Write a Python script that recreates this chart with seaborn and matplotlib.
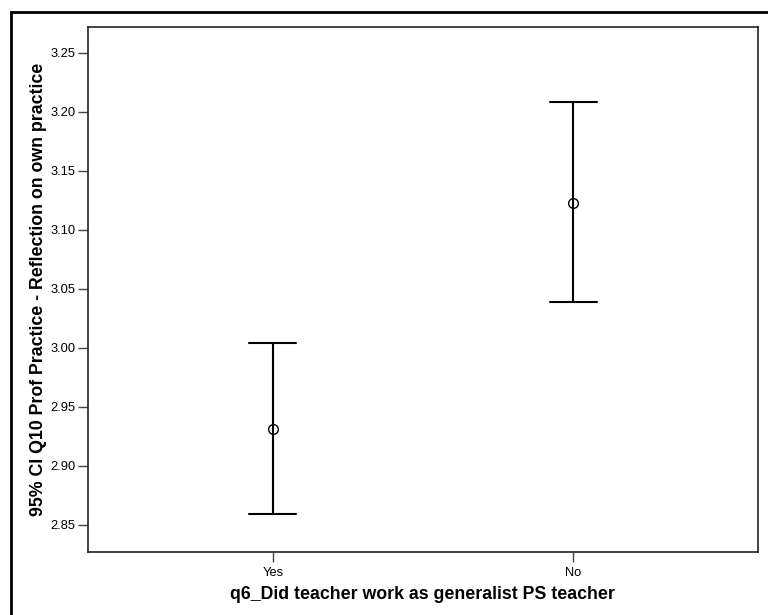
import matplotlib
matplotlib.use("Agg")
import matplotlib.pyplot as plt
from matplotlib.patches import Rectangle
from matplotlib.ticker import FormatStrFormatter
import numpy as np
import pandas as pd
import seaborn as sns

# values
groups = ["Yes", "No"]
ci_low = [2.859, 3.039]
means = [2.931, 3.123]
ci_high = [3.004, 3.208]
y_ticks = [2.85, 2.90, 2.95, 3.00, 3.05, 3.10, 3.15, 3.20, 3.25]

# long table: low / mean / high per group -> median is the mean, min-max the CI
rows = []
for g, lo, m, hi in zip(groups, ci_low, means, ci_high):
    for v in (lo, m, hi):
        rows.append({"group": g, "value": v})
df = pd.DataFrame(rows)

sns.set_style("ticks")
plt.rcParams["font.family"] = ["Liberation Sans", "DejaVu Sans"]
plt.rcParams["text.color"] = "black"
plt.rcParams["axes.labelcolor"] = "black"
plt.rcParams["xtick.labelcolor"] = "black"
plt.rcParams["ytick.labelcolor"] = "black"

fig = plt.figure(figsize=(7.68, 6.15), dpi=100)
ax = fig.add_axes([0.1146, 0.1024, 0.872, 0.8542])

sns.pointplot(data=df, x="group", y="value", order=groups,
              estimator=np.median, errorbar=("pi", 100),
              capsize=0.157, linestyle="none", marker="o",
              color="black", markerfacecolor="none", markeredgecolor="black",
              markersize=7, markeredgewidth=1.0,
              err_kws={"linewidth": 1.5}, ax=ax)

ax.set_xlim(-0.615, 1.614)
ax.set_ylim(2.827, 3.272)
ax.set_yticks(y_ticks)
ax.yaxis.set_major_formatter(FormatStrFormatter("%.2f"))

for side in ["left", "top", "right", "bottom"]:
    ax.spines[side].set_visible(True)
    ax.spines[side].set_color("#222222")
    ax.spines[side].set_linewidth(1.2)
ax.tick_params(axis="both", length=7, width=1, color="#444444",
               labelsize=9.3, pad=2)
ax.tick_params(axis="x", pad=4)

ax.set_xlabel("q6_Did teacher work as generalist PS teacher",
              fontsize=12.8, fontweight="bold", labelpad=5)
ax.set_ylabel("95% CI Q10 Prof Practice - Reflection on own practice",
              fontsize=12.8, fontweight="bold", labelpad=2)

# outer frame, cut off at right and bottom like the source
fig.patches.append(Rectangle((11 / 768, -0.1), 1.2, 0.1 + (615 - 12) / 615,
                             transform=fig.transFigure, fill=False,
                             edgecolor="black", linewidth=2))

fig.savefig("out.png", dpi=100)
